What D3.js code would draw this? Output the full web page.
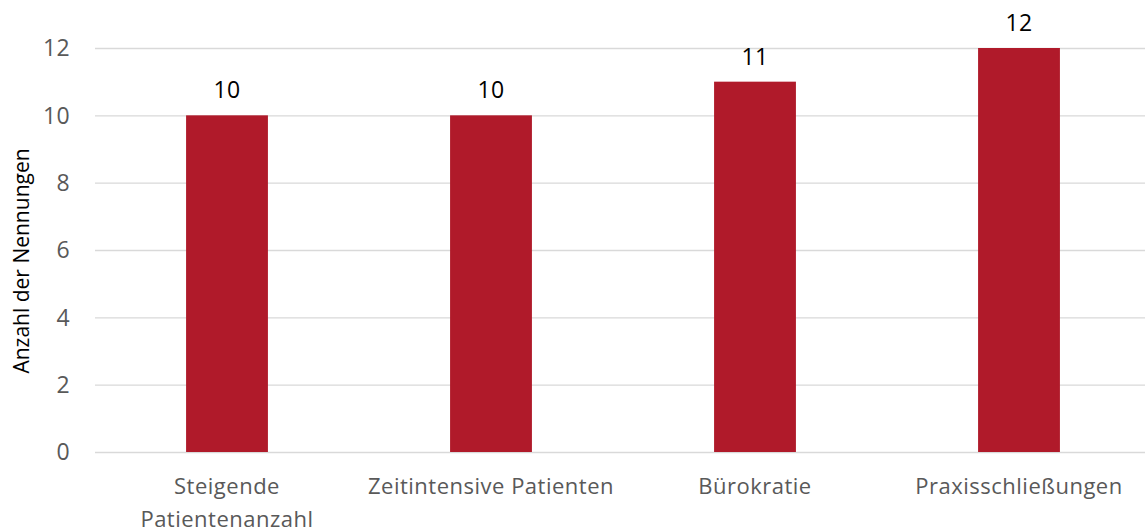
<!DOCTYPE html>
<html>
<head>
<meta charset="utf-8">
<script src="https://cdn.jsdelivr.net/npm/d3@7"></script>
<style>
  body { margin: 0; background: #fff; }
  svg text { font-family: "Open Sans", sans-serif; }
</style>
</head>
<body>
<div id="chart"></div>
<script>
// data
const categories = [["Steigende", "Patientenanzahl"], ["Zeitintensive Patienten"], ["Bürokratie"], ["Praxisschließungen"]];
const counts = [10, 10, 11, 12];
const yTicks = [0, 2, 4, 6, 8, 10, 12];

const width = 1145, height = 532;
const plot = {left: 95, right: 1151, top: 48, bottom: 452};

const svg = d3.select("#chart").append("svg")
  .attr("width", width)
  .attr("height", height);

const x = d3.scaleBand()
  .domain(d3.range(counts.length))
  .range([plot.left, plot.right]);

const y = d3.scaleLinear()
  .domain([0, 12])
  .range([plot.bottom, plot.top]);

const barW = x.bandwidth() * 0.31;

// gridlines
svg.append("g")
  .selectAll("line")
  .data(yTicks)
  .join("line")
  .attr("x1", plot.left)
  .attr("x2", width)
  .attr("y1", d => y(d) + 0.5)
  .attr("y2", d => y(d) + 0.5)
  .attr("stroke", "#d9d9d9")
  .attr("stroke-width", 1.3);

// y tick labels
svg.append("g")
  .selectAll("text")
  .data(yTicks)
  .join("text")
  .attr("x", 70)
  .attr("y", d => y(d))
  .attr("dy", "0.36em")
  .attr("text-anchor", "end")
  .attr("fill", "#595959")
  .attr("font-size", 23)
  .attr("letter-spacing", 0.3)
  .text(d => d);

// bars
svg.append("g")
  .selectAll("rect")
  .data(counts)
  .join("rect")
  .attr("x", (d, i) => x(i) + x.bandwidth() / 2 - barW / 2)
  .attr("y", d => y(d))
  .attr("width", barW)
  .attr("height", d => y(0) - y(d))
  .attr("fill", "#b01a2a");

// value labels
svg.append("g")
  .selectAll("text")
  .data(counts)
  .join("text")
  .attr("x", (d, i) => x(i) + x.bandwidth() / 2)
  .attr("y", d => y(d) - 17)
  .attr("text-anchor", "middle")
  .attr("fill", "#000")
  .attr("font-size", 23)
  .attr("letter-spacing", 0.3)
  .text(d => d);

// category labels (wrapped)
const cat = svg.append("g")
  .selectAll("text")
  .data(categories)
  .join("text")
  .attr("x", (d, i) => x(i) + x.bandwidth() / 2)
  .attr("y", 494)
  .attr("text-anchor", "middle")
  .attr("fill", "#595959")
  .attr("font-size", 22)
  .attr("letter-spacing", 0.5);

cat.selectAll("tspan")
  .data(d => d)
  .join("tspan")
  .attr("x", function() { return d3.select(this.parentNode).attr("x"); })
  .attr("dy", (d, i) => i === 0 ? 0 : 33)
  .text(d => d);

// y axis title
svg.append("text")
  .attr("transform", "translate(29,261) rotate(-90)")
  .attr("text-anchor", "middle")
  .attr("fill", "#000")
  .attr("font-size", 21)
  .text("Anzahl der Nennungen");
</script>
</body>
</html>
